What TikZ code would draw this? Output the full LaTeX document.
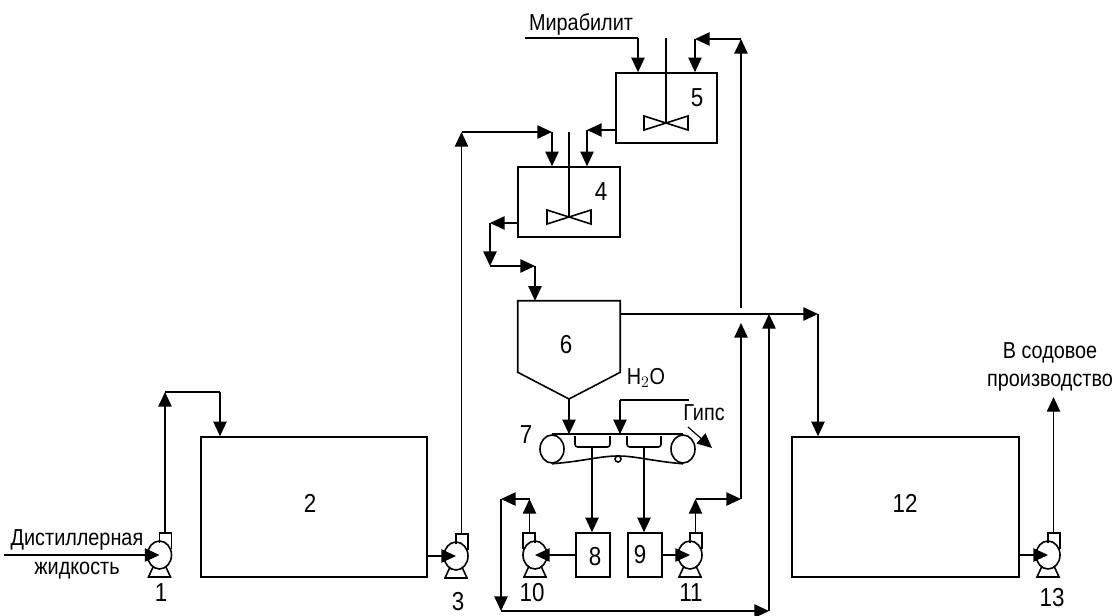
\documentclass[tikz,border=0pt]{standalone}
\usepackage{fontspec}
\setmainfont[FakeStretch=.86]{Liberation Sans}
\usetikzlibrary{arrows.meta,calc,positioning,shapes.geometric}
\def\px{.75pt}
\tikzset{
  tank/.style={
    draw=black,
    line width=1.2pt,
    inner sep=0pt
  },
  roller/.style={
    draw=black,
    ellipse,
    line width=1.2pt,
    inner sep=0pt,
    minimum width=24*\px,
    minimum height=28*\px
  },
  tag/.style={
    inner sep=0pt,
    align=center,
    font=\fontsize{19.5}{22}\selectfont
  },
  caption/.style={
    inner sep=0pt,
    align=center,
    font=\fontsize{17.3}{21.5}\selectfont
  },
  pipe/.style={
    line width=1.2pt,
    black
  },
  feed/.style={
    pipe,
    -{Triangle[length=11pt,width=10pt]}
  },
  thinfeed/.style={
    feed,
    line width=.9pt
  },
  pump/.pic={
    \draw[pipe] (0,-12) -- (0,-22) -- (12,-22) -- (12,-6);
    \draw[pipe] (0,0) ellipse (12 and 14);
    \draw[pipe] (-6,11) -- (-11,22) -- (11,22) -- (6,11);
    \coordinate (-in) at (0,0);
    \coordinate (-out) at (5.5,-22);
  },
  stirrer/.pic={
    \draw[pipe] (0,-85) -- (0,0);
    \draw[pipe] (0,0) -- (-22,-7) -- (-22,7) -- cycle;
    \draw[pipe] (0,0) -- (22,-7) -- (22,7) -- cycle;
  }
}
\begin{document}
\begin{tikzpicture}[x=\px,y=-\px]
\useasboundingbox (0,0) rectangle (1116,615);

% tanks
\node[tank, minimum width=226*\px, minimum height=140*\px] (t2) at (314,507) {};
\node[tank, minimum width=227*\px, minimum height=140*\px] (t12) at (905.5,507) {};
\node[tank, minimum width=102*\px, minimum height=70*\px] (t4) at (569,202) {};
\node[tank, minimum width=101*\px, minimum height=70*\px] (t5) at (666.5,108) {};
\node[tank, minimum width=34*\px, minimum height=44*\px] (t8) at (593,555) {};
\node[tank, minimum width=34*\px, minimum height=44*\px, right=12.5pt of t8] (t9) {};
\node[minimum width=102*\px, minimum height=71*\px, inner sep=0pt] (t6) at (569,336.5) {};
\coordinate (t6tip) at (569,399);
\draw[pipe] (t6.south west) -- (t6.north west) -- (t6.north east) -- (t6.south east) -- (t6tip) -- cycle;

\pic at (569,217) {stirrer};
\pic at (666,123) {stirrer};

% pumps
\pic (p1) at (159.5,555) {pump};
\pic (p3) at (456,556) {pump};
\pic[xscale=-1] (p10) at (535,555) {pump};
\pic (p11) at (690,555) {pump};
\pic (p13) at (1048,555) {pump};

\node[tag] (n1) at (161,593) {1};
\node[tag] (n2) at (310,503) {2};
\node[tag] (n3) at (458,602) {3};
\node[tag] (n4) at (601,192) {4};
\node[tag] (n5) at (697,98) {5};
\node[tag] (n6) at (566,345) {6};
\node[tag] (n7) at (526,435) {7};
\node[tag] (n8) at (595,557) {8};
\node[tag] (n9) at (640,555) {9};
\node[tag] (n10) at (532,593) {10};
\node[tag] (n11) at (691,593) {11};
\node[tag] (n12) at (905,503) {12};
\node[tag] (n13) at (1052,598) {13};

% belt filter
\node[roller] (r1) at (552,449) {};
\node[roller] (r2) at (683,449) {};
\coordinate (idler) at (618,459);
\draw[pipe] (r1.north) -- (r2.north);
\draw[pipe] (r1.south) .. controls (585,461) and (600,456) .. (618,456) .. controls (636,456) and (651,461) .. (r2.south);
\draw[pipe] (idler) circle (3);
\draw[pipe, rounded corners=2pt] (575,436) -- (575,447) -- (610,447) -- (610,436);
\draw[pipe, rounded corners=2pt] (627,436) -- (627,447) -- (661,447) -- (661,436);

% texts
\node[caption] (feedtxt) at (77,554.5) {Дистиллерная\\жидкость};
\node[caption] (mirtxt) at (581,24) {Мирабилит};
\node[caption] (wtxt) at (646,378) {H$_2$O};
\node[caption] (gtxt) at (704,413) {Гипс};
\node[caption] (sodatxt) at (1050,367) {В содовое\\производство};

% bends
\coordinate (feed1) at (4,555);
\coordinate (a1) at (165,392);
\coordinate (a2) at (220,392);
\coordinate (b1) at (461.5,132);
\coordinate (b2) at (552,132);
\coordinate (c1) at (525,38);
\coordinate (c2) at (638,38);
\coordinate (d1) at (741,323);
\coordinate (d2) at (741,308);
\coordinate (d3) at (741,39);
\coordinate (d4) at (695,39);
\coordinate (e1) at (587,130);
\coordinate (f1) at (490,223);
\coordinate (f2) at (490,266);
\coordinate (f3) at (535,266);
\coordinate (g1) at (818,314);
\coordinate (h1) at (741,499);
\coordinate (k2) at (501,499);
\coordinate (k3) at (501,611);
\coordinate (k4) at (769,611);
\coordinate (k5) at (769,314);
\coordinate (w1) at (689,400);
\coordinate (w2) at (620,400);
\coordinate (gyp1) at (688,427);
\coordinate (gyp2) at (712,448);
\coordinate (tray1) at (592,447);
\coordinate (tray2) at (644,447);
\coordinate (soda) at (1053,397);

% connectors
\draw[feed] (feed1) -- (p1-in);
\draw[feed] (p1-out) -- (p1-out |- a1);
\draw[pipe] (p1-out |- a1) -- (a2);
\draw[feed] (a2) -- (a2 |- t2.north);
\draw[feed] (t2.east |- p3-in) -- (p3-in);
\draw[feed] (p3-out) -- (b1);
\draw[feed] (b1) -- (b2);
\draw[feed] (b2) -- (b2 |- t4.north);
\draw[pipe] (c1) -- (c2);
\draw[feed] (c2) -- (c2 |- t5.north);
\draw[feed] (d2) -- (d3);
\draw[feed] (d3) -- (d4);
\draw[feed] (d4) -- (d4 |- t5.north);
\draw[feed] (t5.west |- e1) -- (e1);
\draw[feed] (e1) -- (e1 |- t4.north);
\draw[feed] (t4.west |- f1) -- (f1);
\draw[feed] (f1) -- (f2);
\draw[feed] (f2) -- (f3);
\draw[feed] (f3) -- (f3 |- t6.north);
\draw[feed] (t6.east |- g1) -- (g1);
\draw[feed] (g1) -- (g1 |- t12.north);
\draw[feed] (t6tip) -- (t6tip |- r1.north);
\draw[pipe] (w1) -- (w2);
\draw[feed] (w2) -- (w2 |- r1.north);
\draw[thinfeed] (gyp1) -- (gyp2);
\draw[feed] (tray1) -- (tray1 |- t8.north);
\draw[feed] (tray2) -- (tray2 |- t9.north);
\draw[feed] (t8.west |- p10-in) -- (p10-in);
\draw[feed] (t9.east |- p11-in) -- (p11-in);
\draw[thinfeed] (p10-out) -- (p10-out |- k2);
\draw[feed] (p10-out |- k2) -- (k2);
\draw[feed] (k2) -- (k3);
\draw[feed] (k3) -- (k4);
\draw[feed] (k4) -- (k5);
\draw[thinfeed] (p11-out) -- (p11-out |- h1);
\draw[feed] (p11-out |- h1) -- (h1);
\draw[feed] (h1) -- (d1);
\draw[feed] (t12.east |- p13-in) -- (p13-in);
\draw[thinfeed] (p13-out) -- (p13-out |- soda);
\end{tikzpicture}
\end{document}
